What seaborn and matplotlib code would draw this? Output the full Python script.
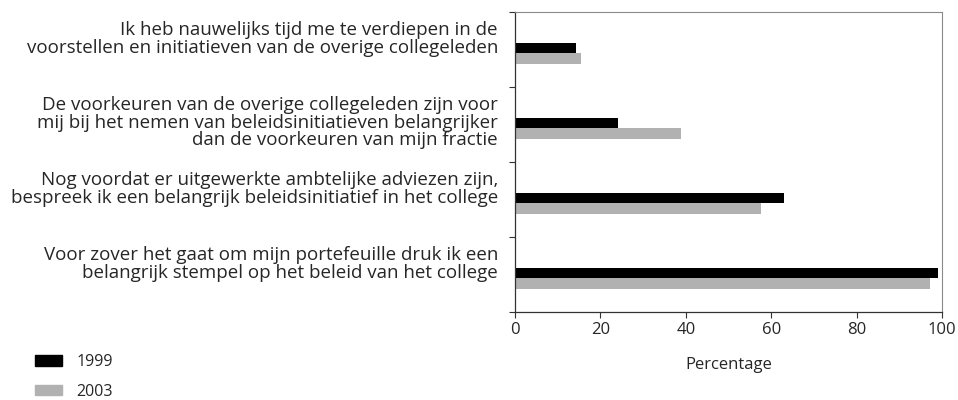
import pandas as pd
import seaborn as sns
import matplotlib
matplotlib.use('Agg')
import matplotlib.pyplot as plt
from matplotlib.patches import Patch

statements = [
    "Ik heb nauwelijks tijd me te verdiepen in de\nvoorstellen en initiatieven van de overige collegeleden",
    "De voorkeuren van de overige collegeleden zijn voor\nmij bij het nemen van beleidsinitiatieven belangrijker\ndan de voorkeuren van mijn fractie",
    "Nog voordat er uitgewerkte ambtelijke adviezen zijn,\nbespreek ik een belangrijk beleidsinitiatief in het college",
    "Voor zover het gaat om mijn portefeuille druk ik een\nbelangrijk stempel op het beleid van het college",
]
years = ["1999", "2003"]
values_1999 = [14.2, 24.2, 62.9, 99.1]
values_2003 = [15.4, 38.8, 57.6, 97.3]
x_ticks = [0, 20, 40, 60, 80, 100]

df = pd.DataFrame({
    "statement": statements * 2,
    "year": [years[0]] * 4 + [years[1]] * 4,
    "pct": values_1999 + values_2003,
})

sns.set_style("white")
plt.rcParams['font.family'] = ['Open Sans', 'DejaVu Sans']

fig = plt.figure(figsize=(9.58, 4.0), dpi=100)
ax = fig.add_axes([0.5376, 0.22, 0.9833 - 0.5376, 0.75])

palette = {"1999": "#000000", "2003": "#b1b1b1"}
sns.barplot(data=df, y="statement", x="pct", hue="year", palette=palette,
            orient="h", width=0.28, linewidth=0, saturation=1, ax=ax, legend=False)

n = len(statements)
ax.set_ylim(n - 0.55, -0.55)
ax.set_yticks([i - 0.55 for i in range(n + 1)])
ax.set_yticklabels([])
for i, s in enumerate(statements):
    ax.text(-0.04, i - 0.43, s, transform=ax.get_yaxis_transform(),
            ha="right", va="top", fontsize=13.5, linespacing=0.97)

ax.set_xlim(0, 100)
ax.set_xticks(x_ticks)
ax.set_xticklabels([str(t) for t in x_ticks], fontsize=12)
ax.set_xlabel("Percentage", fontsize=12, labelpad=14)
ax.set_ylabel("")

ax.tick_params(axis="both", direction="out", length=4, width=0.8, color="#333333",
               left=True, bottom=True, pad=3)
for side in ["left", "bottom"]:
    ax.spines[side].set_color("#333333")
    ax.spines[side].set_linewidth(0.9)
for side in ["top", "right"]:
    ax.spines[side].set_color("#8a8a8a")
    ax.spines[side].set_linewidth(0.8)

handles = [Patch(color=palette[y], label=y) for y in years]
fig.legend(handles=handles, loc="lower left", bbox_to_anchor=(0.022, -0.035),
           frameon=False, fontsize=11.5, handlelength=1.65, handleheight=0.62,
           handletextpad=0.9, labelspacing=0.85)

fig.savefig("out.png", dpi=100)
